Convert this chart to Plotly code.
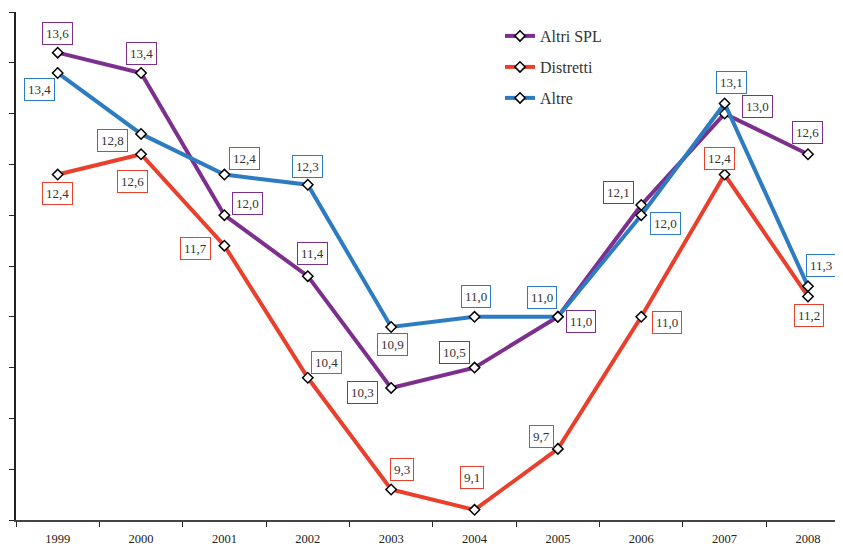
import plotly.graph_objects as go

years = ["1999", "2000", "2001", "2002", "2003", "2004", "2005", "2006", "2007", "2008"]
altri_spl = [13.6, 13.4, 12.0, 11.4, 10.3, 10.5, 11.0, 12.1, 13.0, 12.6]
distretti = [12.4, 12.6, 11.7, 10.4, 9.3, 9.1, 9.7, 11.0, 12.4, 11.2]
altre = [13.4, 12.8, 12.4, 12.3, 10.9, 11.0, 11.0, 12.0, 13.1, 11.3]

# label offsets in pixels (dx, dy-up)
off_altri = [(0, 19), (0, 19), (23, 12), (5, 23), (-29, -5), (-20, 15), (23, -5), (-23, 13), (33, 7), (0, 22)]
off_distr = [(0, -19), (-9, -27), (-29, -3), (19, 15), (11, 20), (-3, 32), (-16, 12), (26, -6), (-5, 16), (1, -19)]
off_altre = [(-18, -17), (-29, -7), (20, 16), (0, 18), (1, -18), (1, 20), (-16, 19), (24, -8), (7, 21), (13, 21)]

PURPLE = "#7D2F8E"
RED = "#EA402B"
BLUE = "#2D7CC1"
FONT = "Liberation Serif"

fig = go.Figure()
series = [
    ("Altri SPL", altri_spl, PURPLE, off_altri, "legend"),
    ("Distretti", distretti, RED, off_distr, "legend2"),
    ("Altre", altre, BLUE, off_altre, "legend3"),
]
for name, vals, col, offs, lg in series:
    fig.add_trace(go.Scatter(
        x=years, y=vals, name=name, mode="lines+markers",
        line=dict(color=col, width=4),
        marker=dict(symbol="diamond", size=8, color="white", line=dict(color="black", width=1.5)),
        legend=lg,
    ))

for name, vals, col, offs, lg in reversed(series):
    for i, (v, (dx, dy)) in enumerate(zip(vals, offs)):
        fig.add_annotation(
            x=i, y=v, xref="x", yref="y", text=f"{v:.1f}".replace(".", ","),
            showarrow=False, xshift=dx, yshift=dy,
            font=dict(family=FONT, size=13, color="#333333"),
            bordercolor=col, borderwidth=1, borderpad=3, bgcolor="white",
        )

leg_common = dict(font=dict(family=FONT, size=16, color="#333333"), bgcolor="rgba(0,0,0,0)",
                  xanchor="left", yanchor="middle", itemwidth=30)
LX = (500 - 16) / 827
fig.update_layout(
    width=835, height=539,
    margin=dict(l=8, r=0, t=4, b=27),
    plot_bgcolor="white", paper_bgcolor="white",
    showlegend=True,
    legend=dict(x=LX, y=1 - (36 - 12) / 508, **leg_common),
    legend2=dict(x=LX, y=1 - (67 - 12) / 508, **leg_common),
    legend3=dict(x=LX, y=1 - (98 - 12) / 508, **leg_common),
    xaxis=dict(type="category", range=[-0.5, 9.42], showline=True, linecolor="#444444", linewidth=1.5,
               ticks="outside", tickson="boundaries", ticklen=5, tickcolor="#222222",
               showgrid=False, zeroline=False, ticklabelstandoff=6,
               tickfont=dict(family=FONT, size=12.5, color="#222222")),
    yaxis=dict(range=[9, 14], dtick=0.5, tick0=9, showline=True, linecolor="#222222", linewidth=1.5,
               ticks="outside", ticklen=5, tickcolor="#222222", showticklabels=False,
               showgrid=False, zeroline=False),
)
fig.write_html("out.html")
